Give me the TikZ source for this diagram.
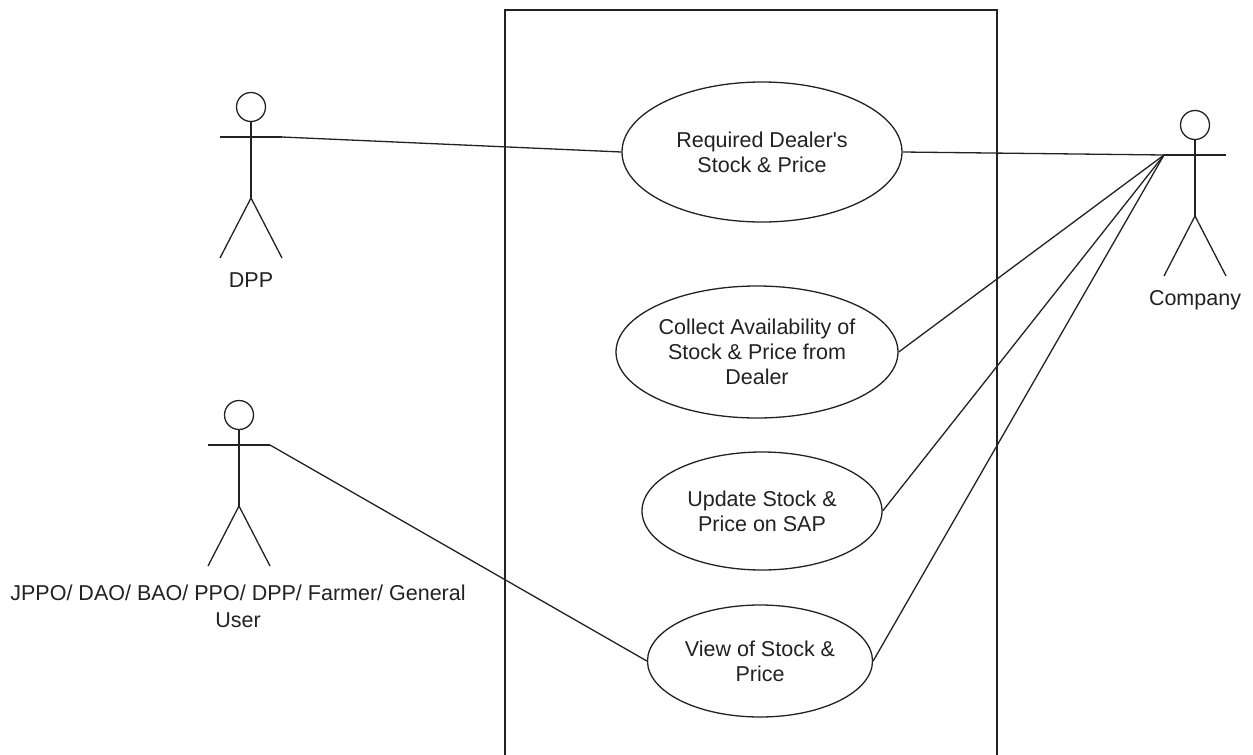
\documentclass[tikz,border=0pt]{standalone}
\usepackage{fontspec}
\setmainfont{Liberation Sans}
\usetikzlibrary{shapes.geometric}
\definecolor{ink}{HTML}{222222}
\tikzset{
  x=1pt, y=-1pt,
  every path/.style={line width=1.3pt, draw=ink},
  usecase/.style={ellipse, draw=ink, line width=1.3pt, inner sep=0pt, align=center,
    font=\fontsize{21.5}{25}\selectfont, text=ink},
  lbl/.style={inner sep=0pt, align=center, font=\fontsize{21.5}{27}\selectfont, text=ink},
  link/.style={line width=1.3pt, draw=ink},
  actor/.pic={
    \draw (0,0) circle[radius=14.5];
    \draw (0,14.5) -- (0,91);
    \draw (-31,30) -- (31,30);
    \draw (-31,151) -- (0,91) -- (31,151);
    \coordinate (-armL) at (-31,30);
    \coordinate (-armR) at (31,30);
  }
}
\begin{document}
\begin{tikzpicture}
\useasboundingbox[fill=white, draw=none] (0,0) rectangle (1253,755);
% system boundary
\draw[line width=1.4pt] (505,755) -- (505,10) -- (997,10) -- (997,755);
% actors
\pic (dpp) at (251,107) {actor};
\pic (comp) at (1195,125) {actor};
\pic (user) at (239,415) {actor};
\node[lbl] (dppl) at (251,280) {DPP};
\node[lbl] (compl) at (1195,300) {Company};
\node[lbl] (userl) at (238,606) {JPPO/ DAO/ BAO/ PPO/ DPP/ Farmer/ General\\User};
% use cases
\node[usecase, minimum width=280pt, minimum height=140pt] (e1) at (762,152) {Required Dealer\textquotesingle s\\Stock \& Price};
\node[usecase, minimum width=282pt, minimum height=132pt] (e2) at (757,352) {Collect Availability of\\Stock \& Price from\\Dealer};
\node[usecase, minimum width=240pt, minimum height=118pt] (e3) at (762,511) {Update Stock \&\\Price on SAP};
\node[usecase, minimum width=225pt, minimum height=112pt] (e4) at (760,661) {View of Stock \&\\Price};
% connectors
\draw[link] (dpp-armR) -- (e1.west);
\draw[link] (e1.east) -- (comp-armL);
\draw[link] (e2.east) -- (comp-armL);
\draw[link] (e3.east) -- (comp-armL);
\draw[link] (e4.east) -- (comp-armL);
\draw[link] (user-armR) -- (e4.west);
\end{tikzpicture}
\end{document}
